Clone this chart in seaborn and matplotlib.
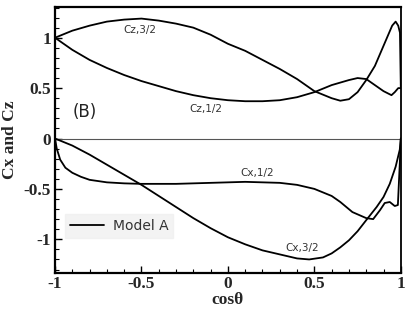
import numpy as np
import pandas as pd
import matplotlib
matplotlib.use("Agg")
import matplotlib.pyplot as plt
from matplotlib.ticker import MultipleLocator
from matplotlib.font_manager import FontProperties
import seaborn as sns

# ---------- DATA ----------
cz32_x = [-1.0, -0.9, -0.8, -0.7, -0.6, -0.5, -0.4, -0.3, -0.2, -0.1, 0.0, 0.1, 0.2,
          0.3, 0.4, 0.5, 0.6, 0.65, 0.7, 0.75, 0.8, 0.85, 0.9, 0.95, 0.97, 0.985,
          0.995, 1.0]
cz32_y = [1.0, 1.07, 1.12, 1.16, 1.18, 1.19, 1.17, 1.14, 1.10, 1.03, 0.94, 0.87, 0.78,
          0.69, 0.59, 0.47, 0.40, 0.375, 0.39, 0.46, 0.58, 0.72, 0.92, 1.12, 1.16, 1.12,
          1.05, 0.5]

cz12_x = [-1.0, -0.9, -0.8, -0.7, -0.6, -0.5, -0.4, -0.3, -0.2, -0.1, 0.0, 0.1, 0.2,
          0.3, 0.4, 0.5, 0.6, 0.7, 0.75, 0.8, 0.85, 0.9, 0.946, 0.965, 0.985, 1.0]
cz12_y = [1.0, 0.88, 0.78, 0.70, 0.63, 0.57, 0.52, 0.47, 0.43, 0.40, 0.38, 0.37, 0.37,
          0.38, 0.41, 0.46, 0.53, 0.58, 0.60, 0.59, 0.53, 0.47, 0.43, 0.46, 0.50, 0.5]

cx32_x = [-1.0, -0.9, -0.8, -0.7, -0.6, -0.5, -0.4, -0.3, -0.2, -0.1, 0.0, 0.1, 0.2,
          0.3, 0.4, 0.47, 0.55, 0.6, 0.65, 0.7, 0.75, 0.8, 0.86, 0.9, 0.936, 0.97,
          0.994, 1.0]
cx32_y = [0.0, -0.07, -0.16, -0.26, -0.36, -0.46, -0.57, -0.68, -0.79, -0.89, -0.98,
          -1.05, -1.11, -1.15, -1.19, -1.20, -1.18, -1.14, -1.08, -1.01, -0.92, -0.81,
          -0.68, -0.58, -0.45, -0.28, -0.11, 0.0]

cx12_x = [-1.0, -0.99, -0.97, -0.94, -0.9, -0.85, -0.8, -0.7, -0.6, -0.5, -0.3, -0.1,
          0.0, 0.1, 0.2, 0.3, 0.4, 0.5, 0.6, 0.65, 0.72, 0.8, 0.84, 0.88, 0.907, 0.936,
          0.965, 0.983, 0.994, 1.0]
cx12_y = [0.0, -0.10, -0.21, -0.29, -0.34, -0.38, -0.41, -0.435, -0.445, -0.45, -0.45,
          -0.44, -0.435, -0.43, -0.435, -0.44, -0.46, -0.50, -0.57, -0.63, -0.73, -0.79,
          -0.80, -0.71, -0.64, -0.63, -0.67, -0.66, -0.25, 0.0]

curve_names = ["Cz,3/2", "Cz,1/2", "Cx,3/2", "Cx,1/2"]
curve_x = [cz32_x, cz12_x, cx32_x, cx12_x]
curve_y = [cz32_y, cz12_y, cx32_y, cx12_y]

# ---------- PLOT ----------
sns.set_style("white")
plt.rcParams['font.family'] = ['DejaVu Sans']

fig = plt.figure(figsize=(4.09, 3.27), dpi=100)
ax = fig.add_axes([0.1345, 0.165, 0.8455, 0.8136])

ax.axhline(0, color="#555555", lw=0.8, zorder=1)

for i, (name, xs, ys) in enumerate(zip(curve_names, curve_x, curve_y)):
    df = pd.DataFrame({"x": xs, "y": ys})
    sns.lineplot(data=df, x="x", y="y", sort=False, color="black", lw=1.3,
                 label="Model A" if i == 0 else None, ax=ax, zorder=3)

# curve labels
ax.text(-0.51, 1.075, "Cz,3/2", fontsize=7.5, color="#333333", ha="center", va="center")
ax.text(-0.13, 0.29, "Cz,1/2", fontsize=7.5, color="#333333", ha="center", va="center")
ax.text(0.17, -0.34, "Cx,1/2", fontsize=7.5, color="#333333", ha="center", va="center")
ax.text(0.43, -1.09, "Cx,3/2", fontsize=7.5, color="#333333", ha="center", va="center")
ax.text(-0.83, 0.265, "(B)", fontsize=12, color="#222222", ha="center", va="center")

ax.set_xlim(-1, 1)
ax.set_ylim(-1.335, 1.305)

ax.xaxis.set_major_locator(MultipleLocator(0.5))
ax.xaxis.set_minor_locator(MultipleLocator(0.1))
ax.yaxis.set_major_locator(MultipleLocator(0.5))
ax.yaxis.set_minor_locator(MultipleLocator(0.1))

ax.tick_params(which="both", direction="in", top=False, right=False,
               left=True, bottom=True, color="black")
ax.tick_params(which="major", length=5, width=1.0)
ax.tick_params(which="minor", length=3, width=0.8)

tick_font = FontProperties(family="Liberation Serif", weight="bold", size=12.5)
label_font = {"family": "Liberation Serif", "weight": "bold", "size": 12.5}
ax.xaxis.set_major_formatter(plt.FuncFormatter(lambda v, p: f"{v:g}"))
ax.yaxis.set_major_formatter(plt.FuncFormatter(lambda v, p: f"{v:g}"))
for lab in ax.get_xticklabels() + ax.get_yticklabels():
    lab.set_fontproperties(tick_font)
ax.tick_params(axis="x", pad=2)
ax.tick_params(axis="y", pad=3)

ax.set_xlabel("cosθ", fontdict=label_font, labelpad=0)
ax.set_ylabel("Cx and Cz", fontdict=label_font, labelpad=4)

for side in ["left", "bottom", "top"]:
    ax.spines[side].set_linewidth(1.6)
    ax.spines[side].set_color("black")
ax.spines["right"].set_linewidth(1.3)
ax.spines["right"].set_color("black")

leg = ax.legend(loc="lower left", bbox_to_anchor=(0.028, 0.133), frameon=True,
                fancybox=False, fontsize=10, handlelength=2.5, borderpad=0.35,
                handletextpad=0.6, borderaxespad=0.0)
leg.get_frame().set_facecolor("#f0f0f0")
leg.get_frame().set_edgecolor("#f0f0f0")
for t in leg.get_texts():
    t.set_color("#333333")

fig.savefig("out.png", dpi=100)
